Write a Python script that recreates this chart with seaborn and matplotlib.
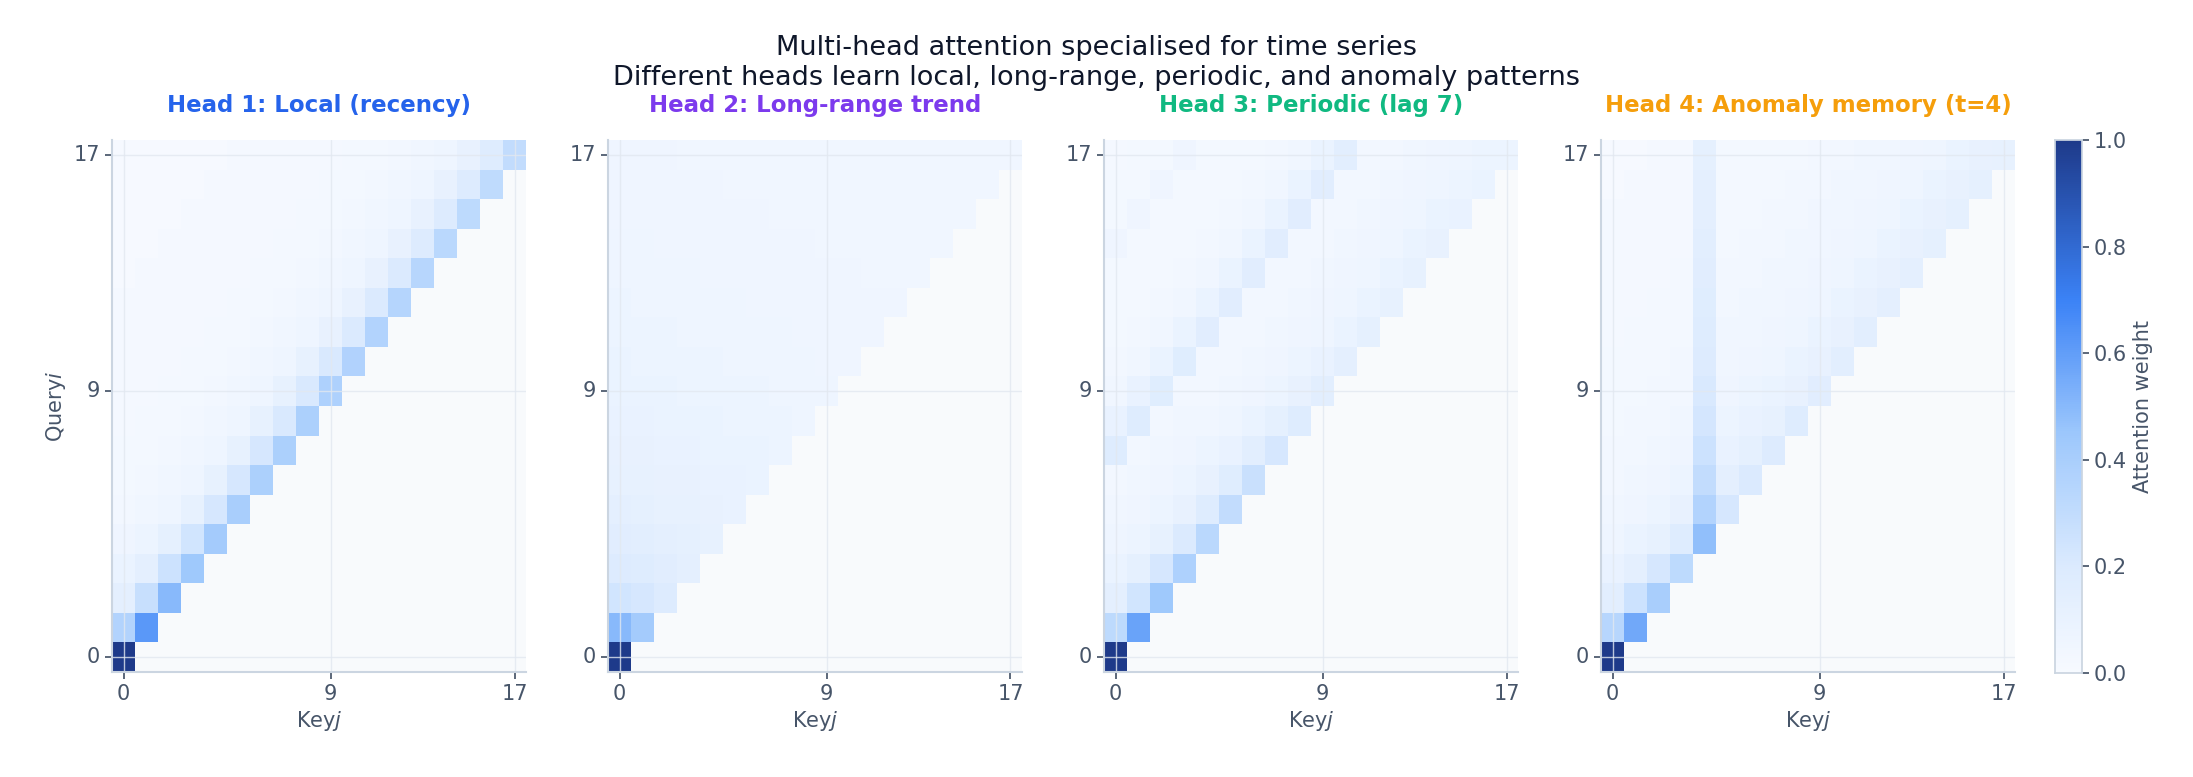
import numpy as np
import matplotlib
matplotlib.use("Agg")
import matplotlib.pyplot as plt
from matplotlib.colors import LinearSegmentedColormap
import seaborn as sns

N = 18
titles = ["Head 1: Local (recency)", "Head 2: Long-range trend",
          "Head 3: Periodic (lag 7)", "Head 4: Anomaly memory (t=4)"]
title_colors = ["#2563eb", "#7c3aed", "#10b981", "#f59e0b"]
tick_vals = [0, 9, 17]

# attention weights in percent, row i = query i, keys 0..i
head1 = [
    [100],
    [36, 62],
    [14, 28, 50],
    [9, 14, 26, 44],
    [6, 8, 13, 24, 42],
    [4, 5, 7, 12, 22, 40],
    [3, 4, 5, 7, 12, 22, 39],
    [3, 3, 4, 5, 7, 12, 22, 39],
    [2, 3, 3, 4, 5, 7, 12, 21, 39],
    [2, 2, 3, 3, 4, 5, 7, 12, 21, 38],
    [2, 2, 2, 3, 3, 4, 5, 7, 12, 21, 37],
    [2, 2, 2, 2, 3, 3, 4, 5, 7, 11, 20, 36],
    [2, 2, 2, 2, 2, 3, 3, 4, 5, 7, 11, 20, 35],
    [1, 2, 2, 2, 2, 2, 3, 3, 4, 5, 7, 11, 20, 34],
    [1, 1, 2, 2, 2, 2, 2, 3, 3, 4, 5, 7, 11, 19, 33],
    [1, 1, 1, 2, 2, 2, 2, 2, 3, 3, 4, 5, 7, 11, 19, 32],
    [1, 1, 1, 1, 2, 2, 2, 2, 2, 3, 3, 4, 5, 7, 11, 19, 31],
    [1, 1, 1, 1, 1, 2, 2, 2, 2, 2, 3, 3, 4, 5, 7, 11, 18, 30],
]
head2 = [
    [100],
    [50, 42],
    [24, 22, 19],
    [19, 18, 16, 14],
    [16, 15, 14, 13, 12],
    [14, 13, 12, 12, 11, 10],
    [12, 12, 11, 11, 10, 10, 9],
    [11, 11, 10, 10, 9, 9, 9, 8],
    [10, 10, 9, 9, 9, 8, 8, 8, 7],
    [9, 9, 9, 8, 8, 8, 8, 7, 7, 7],
    [9, 8, 8, 8, 8, 7, 7, 7, 7, 6, 6],
    [8, 8, 8, 7, 7, 7, 7, 7, 6, 6, 6, 6],
    [8, 7, 7, 7, 7, 7, 6, 6, 6, 6, 6, 6, 6],
    [7, 7, 7, 7, 6, 6, 6, 6, 6, 6, 6, 5, 5, 5],
    [7, 7, 6, 6, 6, 6, 6, 6, 6, 5, 5, 5, 5, 5, 5],
    [6, 6, 6, 6, 6, 6, 6, 5, 5, 5, 5, 5, 5, 5, 5, 5],
    [6, 6, 6, 6, 6, 5, 5, 5, 5, 5, 5, 5, 5, 5, 5, 5, 5],
    [6, 6, 6, 5, 5, 5, 5, 5, 5, 5, 5, 5, 5, 5, 5, 5, 5, 5],
]
head3 = [
    [100],
    [32, 58],
    [14, 24, 44],
    [9, 13, 22, 38],
    [7, 8, 12, 20, 33],
    [5, 6, 8, 11, 18, 30],
    [4, 5, 6, 8, 11, 17, 27],
    [18, 4, 5, 6, 8, 10, 15, 22],
    [10, 18, 4, 5, 5, 7, 9, 13, 18],
    [5, 10, 17, 4, 4, 5, 6, 8, 11, 15],
    [4, 5, 9, 17, 4, 4, 5, 6, 8, 10, 14],
    [3, 4, 5, 9, 16, 4, 4, 5, 6, 7, 9, 13],
    [3, 3, 4, 5, 9, 16, 4, 4, 5, 6, 7, 9, 12],
    [3, 3, 3, 4, 5, 9, 16, 4, 4, 5, 6, 7, 9, 12],
    [6, 3, 3, 3, 4, 5, 9, 16, 4, 4, 5, 6, 7, 9, 11],
    [3, 6, 3, 3, 3, 4, 5, 9, 16, 4, 4, 5, 6, 7, 9, 10],
    [3, 3, 6, 3, 3, 3, 4, 5, 9, 16, 4, 4, 5, 6, 7, 8, 9],
    [2, 3, 3, 6, 3, 3, 3, 4, 5, 9, 15, 4, 4, 5, 6, 7, 8, 8],
]
head4 = [
    [100],
    [34, 56],
    [15, 26, 40],
    [10, 14, 22, 32],
    [7, 9, 12, 18, 48],
    [5, 6, 8, 11, 36, 22],
    [4, 5, 6, 8, 30, 14, 20],
    [4, 4, 5, 6, 26, 10, 13, 19],
    [3, 4, 4, 5, 23, 8, 10, 12, 18],
    [3, 3, 4, 4, 21, 6, 8, 9, 11, 16],
    [3, 3, 3, 4, 19, 5, 6, 7, 9, 11, 15],
    [2, 3, 3, 3, 18, 5, 5, 6, 7, 9, 11, 15],
    [2, 2, 3, 3, 17, 4, 5, 5, 6, 7, 9, 11, 14],
    [2, 2, 2, 3, 16, 4, 4, 5, 5, 6, 7, 9, 11, 14],
    [2, 2, 2, 2, 15, 3, 4, 4, 5, 5, 6, 7, 9, 11, 13],
    [2, 2, 2, 2, 14, 3, 3, 4, 4, 5, 5, 6, 7, 9, 11, 13],
    [1, 2, 2, 2, 14, 3, 3, 3, 4, 4, 5, 5, 6, 7, 9, 11, 13],
    [1, 1, 2, 2, 13, 3, 3, 3, 3, 4, 4, 5, 5, 6, 7, 9, 11, 12],
]
heads = [head1, head2, head3, head4]

def to_matrix(rows):
    m = np.full((N, N), np.nan)
    for i, r in enumerate(rows):
        m[i, :len(r)] = np.array(r) / 100.0
    return m

cmap = LinearSegmentedColormap.from_list(
    "att", [(0, "#f7faff"), (0.2, "#dbeafe"), (0.45, "#9cc7fc"),
            (0.7, "#3b82f6"), (1, "#1e3a8a")])

sns.set_theme(style="white")
plt.rcParams['font.family'] = ['DejaVu Sans']
text_c = "#475569"

fig = plt.figure(figsize=(21.93, 7.77), dpi=100)
W, H = 2193, 777
lefts = [112, 608, 1104, 1601]
axw, top, bot = 414, 140, 672
cax = fig.add_axes([2055 / W, 1 - 673 / H, 27 / W, 533 / H])

for k, ax_left in enumerate(lefts):
    ax = fig.add_axes([ax_left / W, 1 - bot / H, axw / W, (bot - top) / H])
    ax.set_facecolor("#f8fafc")
    m = to_matrix(heads[k])
    sns.heatmap(m, ax=ax, cmap=cmap, vmin=0, vmax=1, cbar=(k == 3),
                cbar_ax=cax if k == 3 else None, square=False,
                cbar_kws={"label": "Attention weight"} if k == 3 else None)
    ax.invert_yaxis()
    ax.set_xticks([v + 0.5 for v in tick_vals])
    ax.set_xticklabels([str(v) for v in tick_vals], rotation=0, fontsize=15, color=text_c)
    ax.set_yticks([v + 0.5 for v in tick_vals])
    ax.set_yticklabels([str(v) for v in tick_vals], rotation=0, fontsize=15, color=text_c)
    ax.tick_params(axis="both", length=5, color=text_c, left=True, bottom=True)
    for v in tick_vals:
        ax.axvline(v + 0.5, color="#e2e8f0", lw=1, alpha=0.8)
        ax.axhline(v + 0.5, color="#e2e8f0", lw=1, alpha=0.8)
    for s in ["top", "right"]:
        ax.spines[s].set_visible(False)
    for s in ["left", "bottom"]:
        ax.spines[s].set_visible(True)
        ax.spines[s].set_color("#cbd5e1")
        ax.spines[s].set_linewidth(1.5)
    ax.set_xlabel("Key$j$", fontsize=15, color=text_c)
    ax.set_ylabel("Query$i$" if k == 0 else "", fontsize=15, color=text_c)
    ax.set_title(titles[k], color=title_colors[k], fontsize=16.5, fontweight="bold", pad=20)

cax.tick_params(labelsize=15, colors=text_c, length=5)
cax.yaxis.label.set_color(text_c)
cax.yaxis.label.set_size(15)
for s in cax.spines.values():
    s.set_visible(True)
    s.set_color("#cbd5e1")

fig.suptitle("Multi-head attention specialised for time series\n"
             "Different heads learn local, long-range, periodic, and anomaly patterns",
             fontsize=19.5, color="#0f172a", y=0.955)
fig.savefig("out.png", dpi=100, facecolor="white")
